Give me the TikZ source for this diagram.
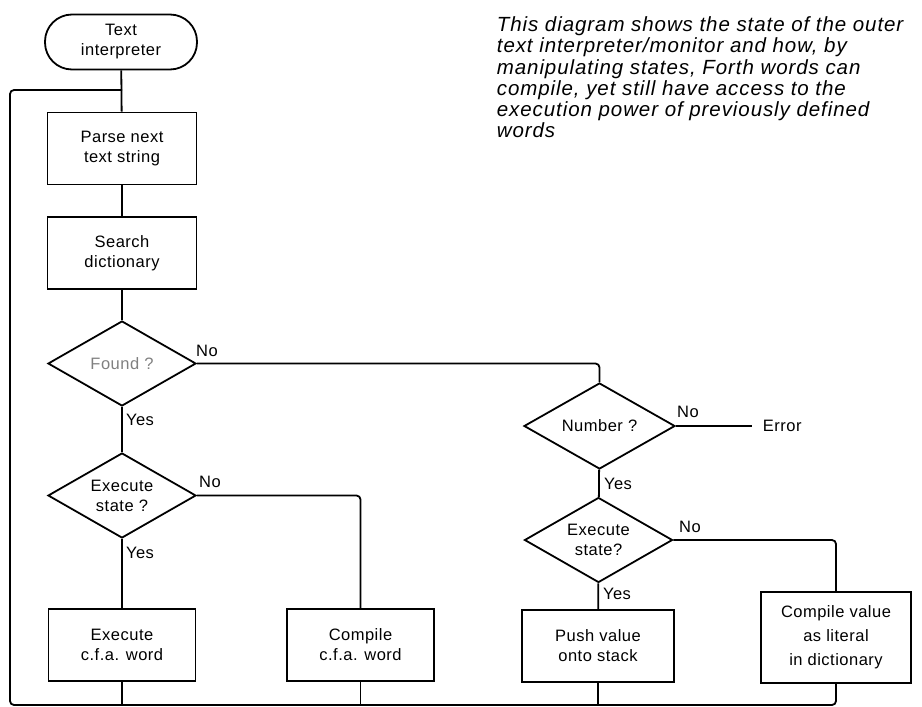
\documentclass[tikz,border=0pt]{standalone}
\usepackage{fontspec}
\setmainfont{Liberation Sans}
\newfontfamily\notefont[LetterSpace=4.5]{Liberation Sans}
\newfontfamily\chartfont[LetterSpace=3]{Liberation Sans}
\usetikzlibrary{shapes.geometric}
\tikzset{
  chart/.style={font=\chartfont\fontsize{16.5}{20}\selectfont, align=center, inner sep=0pt},
  procbox/.style={chart, draw, rectangle, minimum width=149pt, minimum height=72pt},
  decision/.style={chart, draw, diamond, aspect=1.74, minimum width=148pt, minimum height=85pt},
  terminal/.style={chart, draw, rectangle, rounded corners=27pt, minimum width=152pt, minimum height=55pt},
  flow/.style={rounded corners=4pt},
  tag/.style={chart},
  note/.style={font=\notefont\itshape\fontsize{20.5}{21.2}\selectfont, align=left, inner sep=0pt},
}
\begin{document}
\begin{tikzpicture}[x=1pt, y=-1pt, line width=1.8pt]
\useasboundingbox (0,0) rectangle (922,707);

% left-hand column: dictionary lookup
\node[terminal] (start) at (121,42) {Text\\interpreter};
\node[procbox] (parse) at (122,148.5) {Parse next\\text string};
\node[procbox] (search) at (122,253) {Search\\dictionary};
\node[decision, text=gray] (found) at (122,363.5) {Found ?};
\node[decision] (exec1) at (122,495.5) {Execute\\state ?};
\node[procbox, minimum width=147pt] (execbox) at (122,645) {Execute\\c.f.a. word};
\node[procbox, minimum width=147pt] (compbox) at (360.5,645) {Compile\\c.f.a. word};

% right-hand column: number conversion
\node[decision, minimum width=151pt, minimum height=86pt] (number) at (599.5,426) {Number ?};
\node[decision] (exec2) at (598.5,540) {Execute\\state?};
\node[procbox, minimum width=152pt] (pushbox) at (598,646) {Push value\\onto stack};
\node[procbox, minimum width=150pt, minimum height=91pt, font=\chartfont\fontsize{16.5}{24}\selectfont] (litbox) at (836,637.5) {Compile value\\as literal\\in dictionary};
\node[tag, anchor=west, inner xsep=10pt] (error) at (752,426) {Error};

% explanatory note
\node[note, anchor=north west] (caption) at (496,16)
  {This diagram shows the state of the outer\\
   text interpreter/monitor and how, by\\
   manipulating states, Forth words can\\
   compile, yet still have access to the\\
   execution power of previously defined\\
   words};

% loop return points
\coordinate (join) at (122,90);
\coordinate (corner) at (10,705);

% connectors
\draw (start) -- (parse);
\draw (parse) -- (search);
\draw (search) -- (found);
\draw (found) -- (exec1);
\draw (exec1) -- (execbox);
\draw[flow] (exec1.east) -| (compbox.north);
\draw[flow] (found.east) -| (number.north);
\draw (number.east) -- (error.west);
\draw (number) -- (exec2);
\draw (exec2) -- (pushbox);
\draw[flow] (exec2.east) -| (litbox.north);

% return loop back to the parser
\draw[flow] (litbox.south) |- (corner) |- (join);
\draw (execbox.south) -- (execbox.south |- corner);
\draw (compbox.south) -- (compbox.south |- corner);
\draw (pushbox.south) -- (pushbox.south |- corner);

% branch labels
\node[tag] (foundno) at (207,351) {No};
\node[tag] (foundyes) at (140,420) {Yes};
\node[tag] (exec1no) at (210,482) {No};
\node[tag] (exec1yes) at (140,553) {Yes};
\node[tag] (numberno) at (688,412) {No};
\node[tag] (numberyes) at (618,484) {Yes};
\node[tag] (exec2no) at (690,527) {No};
\node[tag] (exec2yes) at (617,594) {Yes};
\end{tikzpicture}
\end{document}
